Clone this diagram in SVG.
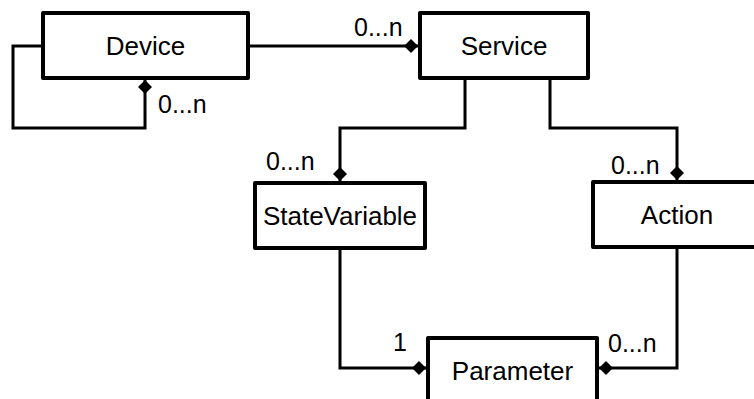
<svg xmlns="http://www.w3.org/2000/svg" width="754" height="399" viewBox="0 0 754 399">
  <defs>
    <style>
      .box { fill: #ffffff; stroke: #000000; stroke-width: 4; stroke-linejoin: round; }
      .name { font-family: "Liberation Sans", Arial, sans-serif; font-size: 26px; fill: #000000; text-anchor: middle; }
      .lbl { font-family: "Liberation Sans", Arial, sans-serif; font-size: 25px; fill: #000000; }
      .conn { fill: none; stroke: #000000; stroke-width: 3; stroke-linejoin: miter; }
    </style>
    <marker id="dia" markerUnits="userSpaceOnUse" markerWidth="14" markerHeight="14" refX="12" refY="6" orient="auto" viewBox="0 0 12 12">
      <polygon points="0,6 6,0 12,6 6,12" fill="#000000"/>
    </marker>
  </defs>
  <rect width="754" height="399" fill="#ffffff"/>

  <g id="connectors">
    <path class="conn" d="M248,46 H418" marker-end="url(#dia)"/>
    <path class="conn" d="M43,46 H13 V128 H145 V80" marker-end="url(#dia)"/>
    <path class="conn" d="M465,78 V128 H340 V181" marker-end="url(#dia)"/>
    <path class="conn" d="M550,78 V128 H677 V180" marker-end="url(#dia)"/>
    <path class="conn" d="M340,248 V368 H426" marker-end="url(#dia)"/>
    <path class="conn" d="M677,248 V368 H599" marker-end="url(#dia)"/>
    <text class="lbl" x="354" y="36">0...n</text>
    <text class="lbl" x="158" y="113">0...n</text>
    <text class="lbl" x="266" y="170">0...n</text>
    <text class="lbl" x="611" y="174">0...n</text>
    <text class="lbl" x="393" y="351">1</text>
    <text class="lbl" x="608" y="352">0...n</text>
  </g>

  <g id="device">
    <rect class="box" x="43" y="13" width="205" height="65"/>
    <text class="name" x="145.5" y="55">Device</text>
  </g>
  <g id="service">
    <rect class="box" x="420" y="13" width="168" height="65"/>
    <text class="name" x="504" y="55">Service</text>
  </g>
  <g id="statevariable">
    <rect class="box" x="255" y="183" width="170" height="65"/>
    <text class="name" x="340" y="225">StateVariable</text>
  </g>
  <g id="action">
    <rect class="box" x="593" y="182" width="168" height="65"/>
    <text class="name" x="677" y="224">Action</text>
  </g>
  <g id="parameter">
    <rect class="box" x="428" y="338" width="169" height="65"/>
    <text class="name" x="512.5" y="380">Parameter</text>
  </g>
</svg>
